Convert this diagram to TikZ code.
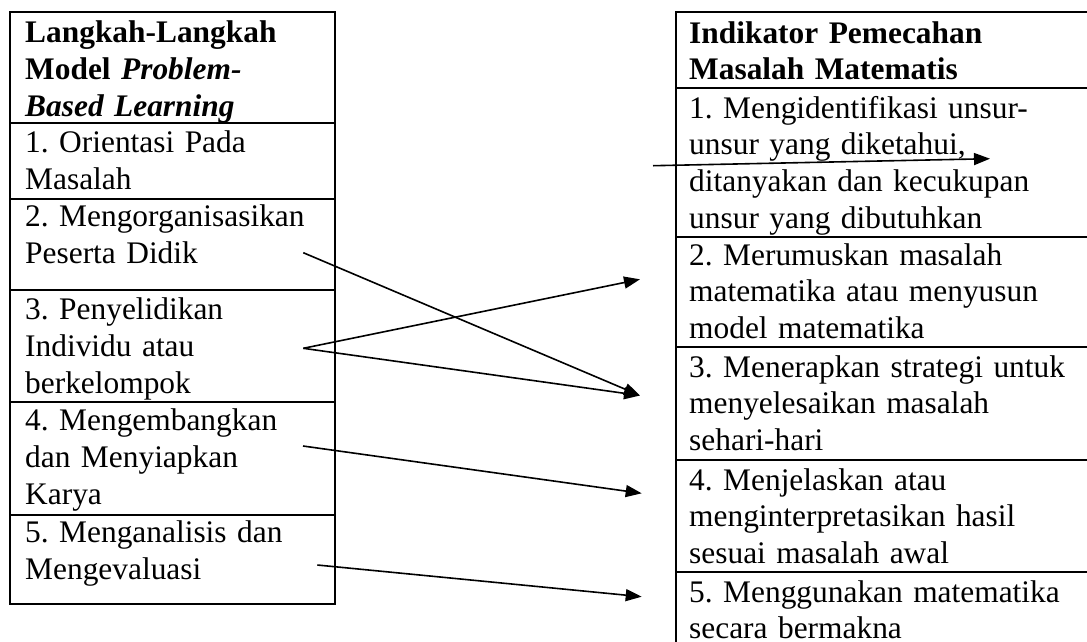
\documentclass[tikz,border=0pt]{standalone}
\usepackage{fontspec}
\setmainfont{Liberation Serif}
\usetikzlibrary{arrows.meta}
\frenchspacing
\begin{document}
\begin{tikzpicture}[x=1pt,y=-1pt,
  cell/.style={draw, line width=1.8pt, anchor=north west, inner sep=0pt, outer sep=0pt},
  txt/.style={anchor=north west, inner sep=0pt, align=left, text width=400pt,
    font=\fontsize{31.4pt}{36.8pt}\selectfont},
  arr/.style={line width=1.6pt, -{Triangle[length=16pt,width=12pt]}}]
\useasboundingbox (0,0) rectangle (1087,641);
\clip (0,0) rectangle (1087,641);
\fill[white] (0,0) rectangle (1087,641);

% left table cells
\node[cell, minimum width=325pt, minimum height=111pt] (L0) at (10,12) {};
\node[cell, minimum width=325pt, minimum height=76pt]  (L1) at (10,123) {};
\node[cell, minimum width=325pt, minimum height=91pt]  (L2) at (10,199) {};
\node[cell, minimum width=325pt, minimum height=112pt] (L3) at (10,290) {};
\node[cell, minimum width=325pt, minimum height=113pt] (L4) at (10,402) {};
\node[cell, minimum width=325pt, minimum height=89pt]  (L5) at (10,515) {};

% right table cells
\node[cell, minimum width=430pt, minimum height=76pt]  (R0) at (676,12) {};
\node[cell, minimum width=430pt, minimum height=149pt] (R1) at (676,88) {};
\node[cell, minimum width=430pt, minimum height=110pt] (R2) at (676,237) {};
\node[cell, minimum width=430pt, minimum height=113pt] (R3) at (676,347) {};
\node[cell, minimum width=430pt, minimum height=112pt] (R4) at (676,460) {};
\node[cell, minimum width=430pt, minimum height=90pt]  (R5) at (676,572) {};

% left texts
\node[txt] (tL0) at (25,17) {\strut\textbf{Langkah-Langkah}\\\textbf{Model \textit{Problem-}}\\\textbf{\textit{Based Learning}}};
\node[txt] (tL1) at (25,127) {\strut 1. Orientasi Pada\\Masalah};
\node[txt] (tL2) at (25,201) {\strut 2. Mengorganisasikan\\Peserta Didik};
\node[txt] (tL3) at (25,294) {\strut 3. Penyelidikan\\Individu atau\\berkelompok};
\node[txt] (tL4) at (25,405) {\strut 4. Mengembangkan\\dan Menyiapkan\\Karya};
\node[txt] (tL5) at (25,517) {\strut 5. Menganalisis dan\\Mengevaluasi};

% right texts
\node[txt] (tR0) at (689,17.2) {\strut\textbf{Indikator Pemecahan}\\\textbf{Masalah Matematis}};
\node[txt] (tR1) at (689,92.2) {\strut 1. Mengidentifikasi unsur-\\unsur yang diketahui,\\ditanyakan dan kecukupan\\unsur yang dibutuhkan};
\node[txt] (tR2) at (689,239.2) {\strut 2. Merumuskan masalah\\matematika atau menyusun\\model matematika};
\node[txt] (tR3) at (689,351.2) {\strut 3. Menerapkan strategi untuk\\menyelesaikan masalah\\sehari-hari};
\node[txt] (tR4) at (689,464.2) {\strut 4. Menjelaskan atau\\menginterpretasikan hasil\\sesuai masalah awal};
\node[txt] (tR5) at (689,576.2) {\strut 5. Menggunakan matematika\\secara bermakna};

% arrow end points
\coordinate (s1) at (653,165.7);
\coordinate (e1) at (990,158.7);
\coordinate (s2) at (303.3,252.7);
\coordinate (e3) at (640,395.5);
\coordinate (s3) at (303.3,348.3);
\coordinate (e2) at (640,279.3);
\coordinate (s4) at (303,446);
\coordinate (e4) at (641.7,493.3);
\coordinate (s5) at (317.3,565);
\coordinate (e5) at (641.7,596.7);

\draw[arr] (s1) -- (e1);
\draw[arr] (s2) -- (e3);
\draw[arr] (s3) -- (e2);
\draw[arr] (s3) -- (e3);
\draw[arr] (s4) -- (e4);
\draw[arr] (s5) -- (e5);
\end{tikzpicture}
\end{document}
